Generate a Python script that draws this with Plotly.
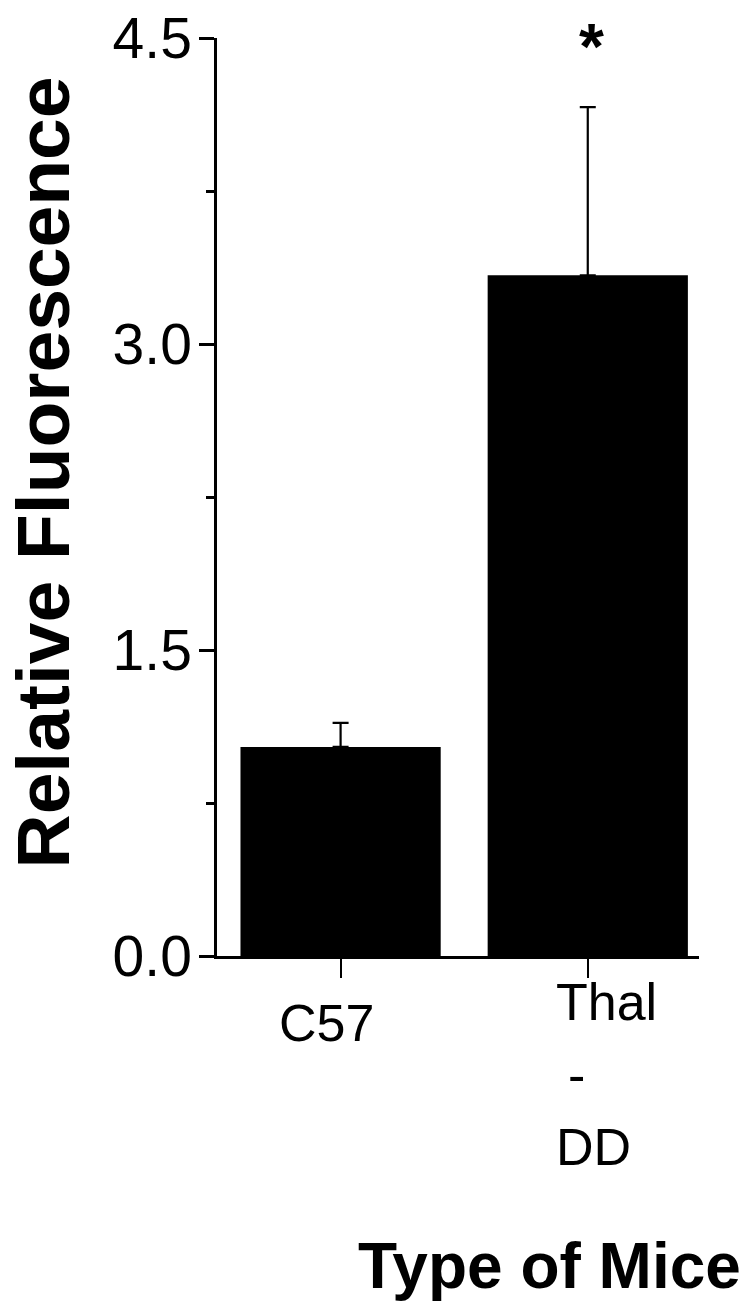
import plotly.graph_objects as go

# ---- data ----
categories = ["C57", "Thal-DD"]
tick_labels = ["C57", "Thal<br>-<br>DD"]
values = [1.025, 3.337]
errors = [0.118, 0.824]
y_ticks = [0.0, 1.5, 3.0, 4.5]
y_tick_labels = ["0.0", "1.5", "3.0", "4.5"]
minor_ticks = [0.75, 2.25, 3.75]
significance = ["", "*"]
y_title = "Relative Fluorescence"
x_title = "Type of Mice"

FONT = "Liberation Sans, Arial, sans-serif"

W, H = 750, 1304
L, R, T, B = 217, 699, 38, 956
PW, PH = R - L, B - T


def px_x(p):
    return (p - L) / PW


def px_y(p):
    return (B - p) / PH


fig = go.Figure()
fig.add_trace(go.Bar(
    x=categories, y=values, width=0.81,
    marker=dict(color="black", line=dict(width=0)),
    error_y=dict(type="data", array=errors, arrayminus=[0] * len(errors),
                 symmetric=False, color="black", thickness=2.2, width=8),
))

fig.update_layout(
    width=W, height=H,
    margin=dict(l=L, r=W - R, t=T, b=H - B, autoexpand=False),
    paper_bgcolor="white", plot_bgcolor="white",
    showlegend=False,
    xaxis=dict(
        range=[-0.5, 1.45], showline=True, linecolor="black", linewidth=2.5,
        ticks="outside", ticklen=19, tickwidth=2, tickcolor="black",
        showticklabels=False, showgrid=False, zeroline=False, automargin=False,
    ),
    yaxis=dict(
        range=[0, 4.5], showline=True, linecolor="black", linewidth=2.5,
        tickmode="array", tickvals=y_ticks, ticktext=y_tick_labels,
        ticks="outside", ticklen=15, tickwidth=2.5, tickcolor="black",
        tickfont=dict(family=FONT, size=57, color="black"),
        ticklabelstandoff=-4, ticklabeloverflow="allow",
        minor=dict(tickmode="array", tickvals=minor_ticks, ticks="outside",
                   ticklen=8, tickwidth=2.5, tickcolor="black", showgrid=False),
        showgrid=False, zeroline=False, automargin=False,
    ),
)

# category labels (one annotation per line)
LINE = 72.5
label_style = {0: dict(xanchor="center", xshift=-14, yshift=-36),
               1: dict(xanchor="left", xshift=-34, yshift=-15)}
line_indent = {1: [0, 12, 0]}
for i, (cat, lab) in enumerate(zip(categories, tick_labels)):
    st = label_style[i]
    for j, line in enumerate(lab.split("<br>")):
        ind = line_indent.get(i, [0] * 3)[j]
        fig.add_annotation(x=cat, xref="x", y=0, yref="paper", text=line,
                           showarrow=False, xanchor=st["xanchor"], yanchor="top",
                           xshift=st["xshift"] + ind, yshift=st["yshift"] - LINE * j,
                           font=dict(family=FONT, size=52, color="black"))

# significance markers
for cat, s in zip(categories, significance):
    if s:
        fig.add_annotation(x=cat, xref="x", y=1, yref="paper", text=s,
                           showarrow=False, xanchor="center", yanchor="middle",
                           xshift=4, yshift=-9,
                           font=dict(family=FONT, size=64, color="black", weight="bold"))

# y title
fig.add_annotation(x=px_x(43), xref="paper", y=px_y(472.5), yref="paper",
                   text=y_title, textangle=-90, showarrow=False,
                   xanchor="center", yanchor="middle",
                   font=dict(family=FONT, size=75, color="black", weight="bold"))

# x title
fig.add_annotation(x=px_x(549), xref="paper", y=px_y(1266), yref="paper",
                   text=x_title, showarrow=False,
                   xanchor="center", yanchor="middle",
                   font=dict(family=FONT, size=64, color="black", weight="bold"))

fig.write_html("out.html",
               config={"displayModeBar": False},
               post_script="document.body.style.margin='0';"
                           "document.documentElement.style.margin='0';")
